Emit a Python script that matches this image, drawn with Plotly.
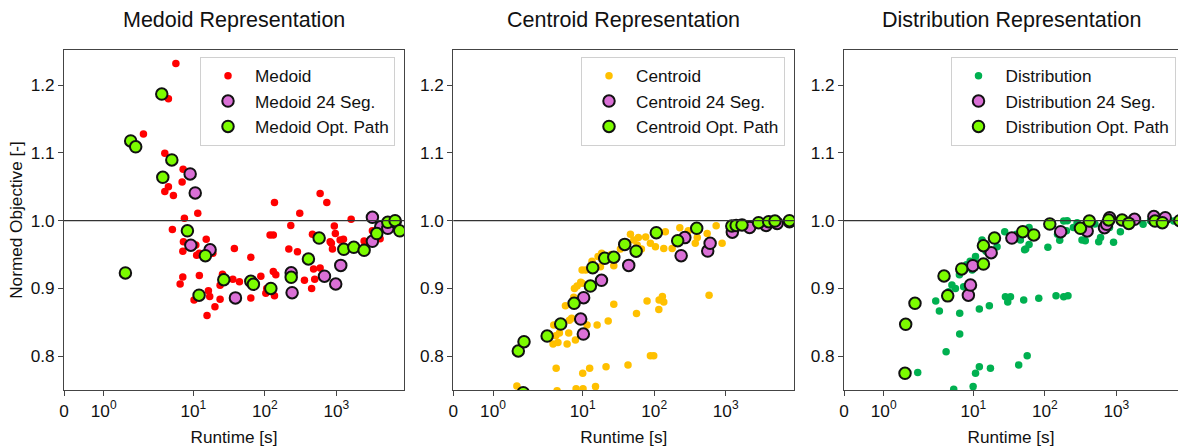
import numpy as np
import plotly.graph_objects as go

# ---------------- data (runtime [s], normed objective [-]) ----------------
medoid_rt = [5.68, 4.47, 2.0, 3.98, 7.18, 6.95, 4.47, 3.98, 5.25, 11.5, 7.48, 5.08, 7.25, 15.1, 10.8, 7.11,
             11.1, 12.1, 18.7, 37.4, 7.1, 6.52, 12.1, 25.5, 23.6, 35.6, 44, 16.2, 16.9, 10.2, 23.6, 20, 15.5,
             63.5, 63.5, 87.7, 103, 106, 136, 118, 131, 131, 142, 136, 230, 216, 285, 307, 357, 592, 734,
             462, 479, 592, 497, 450, 817, 880, 935, 966, 1127, 1254, 1607, 2440, 3186, 4083, 850, 3500, 2700]
medoid_obj = [1.232, 1.180, 1.128, 1.0995, 1.076, 1.057, 1.050, 1.043, 1.037, 1.011, 1.0035, 0.987, 0.969, 0.9725,
              0.964, 0.955, 0.949, 0.952, 0.952, 0.959, 0.917, 0.9065, 0.919, 0.921, 0.9045, 0.9135, 0.910,
              0.8966, 0.888, 0.883, 0.884, 0.873, 0.860, 0.946, 0.886, 0.918, 0.893, 0.900, 1.027, 0.979, 0.979,
              0.925, 0.920, 0.889, 0.993, 0.958, 0.954, 1.011, 0.912, 1.040, 1.027, 0.980, 0.9287, 0.930, 0.9134,
              0.900, 0.969, 0.958, 0.992, 0.981, 0.9715, 0.9725, 1.002, 0.970, 0.985, 0.9734, 0.9666, 0.975, 0.968]

medoid24_rt = [9.0, 10.6, 9.2, 17.1, 38.7, 233, 240, 680, 978, 1150, 3186, 3186, 4170, 5234, 6610]
medoid24_obj = [1.069, 1.041, 0.9637, 0.957, 0.886, 0.923, 0.8937, 0.918, 0.9065, 0.934, 1.005, 0.9696,
                0.991, 0.9887, 0.9985]

medoidopt_rt = [1.546, 1.679, 1.805, 3.61, 3.73, 4.99, 8.24, 14.7, 12.0, 26.6, 63.5, 69, 121, 233, 406, 573,
                1268, 1750, 2440, 3670, 5234, 6610, 7674]
medoidopt_obj = [0.9228, 1.1177, 1.109, 1.187, 1.064, 1.0897, 0.985, 0.9483, 0.890, 0.9128, 0.9105, 0.906,
                 0.900, 0.9164, 0.9434, 0.9744, 0.9577, 0.9607, 0.9563, 0.981, 0.9976, 1.0, 0.985]

centroid_rt = [1.6, 3.85, 3.93, 4.25, 4.38, 4.72, 5.73, 6.05, 6.37, 6.52, 7.49, 7.66, 7.9, 8.08, 8.35, 9.37,
               9.8, 10.0, 10.1, 11.0, 11.5, 12.5, 15.1, 15.9, 16.4, 18.4, 21.2, 22.7, 27.2, 27.2, 33.7, 43,
               46.5, 51.7, 56.5, 66.2, 76, 79.4, 88.4, 88.4, 98.4, 104, 116, 117, 130, 136, 143, 136, 178,
               228, 375, 550, 585, 735, 890, 17.7, 57.8, 13.5, 25, 60, 300, 1500, 3000, 5000, 400, 4.5, 4.2,
               9.8, 7.0]
centroid_obj = [0.756, 0.818, 0.846, 0.782, 0.749, 0.834, 0.8745, 0.818, 0.834, 0.853, 0.887, 0.900, 0.824,
                0.752, 0.9035, 0.909, 0.927, 0.7746, 0.752, 0.927, 0.846, 0.782, 0.755, 0.846, 0.947, 0.952,
                0.7843, 0.852, 0.8765, 0.9335, 0.958, 0.787, 0.980, 0.9715, 0.863, 0.958, 0.976, 0.8814,
                0.9666, 0.8006, 0.8006, 0.9616, 0.869, 0.883, 0.888, 0.880, 0.9838, 0.959, 0.959, 0.9897,
                0.9666, 0.981, 0.890, 0.9926, 0.9666, 0.932, 0.964, 0.940, 0.950, 0.975, 0.985, 0.995,
                0.996, 0.998, 0.975, 0.820, 0.830, 0.9075, 0.856]

centroid24_rt = [9.37, 10.2, 10.3, 18.3, 44, 238, 268, 560, 605, 1237, 2160, 3670, 5234, 7780]
centroid24_obj = [0.8548, 0.8326, 0.8863, 0.912, 0.934, 0.9483, 0.975, 0.9552, 0.9666, 0.983, 0.990, 0.993,
                  0.996, 0.9985]

centroidopt_rt = [1.636, 1.78, 1.76, 3.18, 4.92, 7.58, 12.8, 13.8, 20.3, 27.2, 38.7, 55.8, 107, 213, 393,
                  1216, 1400, 1690, 2880, 3990, 4880, 7780]
centroidopt_obj = [0.8076, 0.8213, 0.746, 0.8297, 0.8474, 0.878, 0.9035, 0.9306, 0.9445, 0.946, 0.965, 0.955,
                   0.9823, 0.9705, 0.9887, 0.992, 0.993, 0.9936, 0.997, 0.9985, 0.9995, 1.0]

distribution_rt = [1.856, 2.97, 3.34, 4.15, 4.15, 5.3, 5.6, 6.37, 6.43, 6.43, 7.3, 9.6, 9.9, 10.7, 12.1, 12.1,
                   10.7, 13.2, 16.7, 17.3, 21.4, 28, 30.2, 33, 27.4, 43, 45.4, 50.5, 53.8, 56.5, 82, 110, 143,
                   161, 183, 183, 210, 330, 367, 565, 912, 1136, 2360, 6330, 282, 7.3, 11.3, 15, 20, 40, 60,
                   150, 250, 500, 800, 1500, 3000, 5000, 4.5, 5.0, 8, 9, 60, 600, 200, 205, 52]
distribution_obj = [0.776, 0.8814, 0.8666, 0.8065, 0.8877, 0.751, 0.900, 0.920, 0.8632, 0.8326, 0.9025, 0.927,
                    0.755, 0.7746, 0.7843, 0.8696, 0.947, 0.9715, 0.8745, 0.782, 0.9616, 0.8877, 0.880,
                    0.8877, 0.9838, 0.787, 0.9715, 0.883, 0.958, 0.8006, 0.8854, 0.9607, 0.889, 0.971,
                    0.9995, 0.8877, 0.889, 0.9715, 0.9705, 0.969, 0.968, 0.9838, 0.9947, 0.9995, 0.997,
                    0.927, 0.937, 0.955, 0.975, 0.980, 0.990, 0.980, 0.990, 0.995, 0.990, 1.0, 1.0, 1.0,
                    0.895, 0.905, 0.935, 0.940, 0.965, 0.975, 0.985, 1.0, 0.957]

distribution24_rt = [8.5, 9.1, 9.8, 17.7, 34.5, 166, 390, 680, 730, 803, 1790, 3340, 4820]
distribution24_obj = [0.890, 0.905, 0.9335, 0.9527, 0.9744, 0.9838, 0.9848, 0.9897, 0.9947, 1.0044, 1.002,
                      1.006, 1.0044]

distributionopt_rt = [1.536, 1.553, 1.787, 3.88, 4.37, 6.86, 13.8, 13.8, 19.7, 49, 69.9, 117, 314, 418, 779,
                      1200, 1490, 3470, 4390, 7700]
distributionopt_obj = [0.7746, 0.847, 0.878, 0.9183, 0.889, 0.9287, 0.963, 0.936, 0.9744, 0.9838, 0.979,
                       0.995, 0.9887, 0.9995, 1.001, 1.001, 0.996, 0.9995, 0.997, 1.0]

panel_names = ["Medoid", "Centroid", "Distribution"]
panel_titles = ["Medoid Representation", "Centroid Representation", "Distribution Representation"]
base_colors = ["#ff0000", "#ffc000", "#00b050"]
x_tick_values = [0, 1, 10, 100, 1000]
x_tick_text = ["0", "10<sup>0</sup>", "10<sup>1</sup>", "10<sup>2</sup>", "10<sup>3</sup>"]
y_tick_values = [0.8, 0.9, 1.0, 1.1, 1.2]

# ---------------- symmetric-log scale (linthresh = 2, linscale = 1, base 10) ----------------
LINTHRESH = 2.0
LINSCALE = 1.0 / (1.0 - 1.0 / 10.0)


def symlog(v):
    v = np.asarray(v, dtype=float)
    a = np.abs(v)
    out = np.where(a <= LINTHRESH, a * LINSCALE / LINTHRESH,
                   LINSCALE + np.log10(np.maximum(a, LINTHRESH) / LINTHRESH))
    return np.sign(v) * out


W, H = 1178, 448
FONT = "Liberation Sans, Arial, Helvetica, sans-serif"
TXT = "#111111"
AX = "#444444"
FS = 17.2
PX_PER_DECADE = 71.5

panels = [
    (medoid_rt, medoid_obj, medoid24_rt, medoid24_obj, medoidopt_rt, medoidopt_obj),
    (centroid_rt, centroid_obj, centroid24_rt, centroid24_obj, centroidopt_rt, centroidopt_obj),
    (distribution_rt, distribution_obj, distribution24_rt, distribution24_obj, distributionopt_rt,
     distributionopt_obj),
]
x_left_px = [64, 453.3, 844]
x_right_px = [404, 794.3, 1178]
y_top_px, y_bot_px = 50, 390
legend_right_px = [395, 785, 1175.5]
legend_top_px = 57

fig = go.Figure()
layout = {}
for i, (name, col, data) in enumerate(zip(panel_names, base_colors, panels)):
    k = "" if i == 0 else str(i + 1)
    xa, ya = "x" + k, "y" + k
    lg = "legend" + k
    brt, bobj, srt, sobj, ort, oobj = data
    fig.add_trace(go.Scatter(x=symlog(brt), y=bobj, mode="markers", name=name, xaxis=xa, yaxis=ya,
                             legend=lg, marker=dict(color=col, size=7.5, line=dict(width=0))))
    fig.add_trace(go.Scatter(x=symlog(srt), y=sobj, mode="markers", name=name + " 24 Seg.", xaxis=xa,
                             yaxis=ya, legend=lg,
                             marker=dict(color="#da70d6", size=11.5, line=dict(color="#111111", width=2))))
    fig.add_trace(go.Scatter(x=symlog(ort), y=oobj, mode="markers", name=name + " Opt. Path", xaxis=xa,
                             yaxis=ya, legend=lg,
                             marker=dict(color="#7cfc00", size=11.5, line=dict(color="#111111", width=2))))

    width_px = x_right_px[i] - x_left_px[i]
    layout["xaxis" + k] = dict(
        domain=[x_left_px[i] / W, x_right_px[i] / W], anchor=ya,
        range=[0, width_px / PX_PER_DECADE],
        tickmode="array", tickvals=symlog(x_tick_values), ticktext=x_tick_text,
        showgrid=False, zeroline=False, showline=True, linecolor=AX, linewidth=1, mirror=True,
        ticks="outside", ticklen=5, tickcolor=AX, tickfont=dict(size=FS, color=TXT, family=FONT),
        title=dict(text="Runtime [s]", font=dict(size=FS, color=TXT, family=FONT), standoff=11),
        automargin=False,
    )
    layout["yaxis" + k] = dict(
        domain=[1 - y_bot_px / H, 1 - y_top_px / H], anchor=xa,
        range=[0.75, 1.252], tickmode="array", tickvals=y_tick_values,
        ticktext=[f"{v:.1f}" for v in y_tick_values],
        showgrid=False, zeroline=False, showline=True, linecolor=AX, linewidth=1,
        mirror=(i < 2), ticks="outside", ticklen=5, tickcolor=AX,
        tickfont=dict(size=FS, color=TXT, family=FONT), automargin=False,
    )
    if i == 0:
        layout["yaxis"]["title"] = dict(text="Normed Objective [-]",
                                        font=dict(size=FS, color=TXT, family=FONT), standoff=3)
    layout[lg] = dict(
        x=legend_right_px[i] / W, y=1 - legend_top_px / H, xanchor="right", yanchor="top",
        bgcolor="rgba(255,255,255,0.85)", bordercolor="#d0d0d0", borderwidth=1,
        font=dict(size=FS, color=TXT, family=FONT), tracegroupgap=0, itemwidth=44,
    )
    fig.add_shape(type="line", xref=xa + " domain", yref=ya, x0=0, x1=1, y0=1.0, y1=1.0,
                  line=dict(color="#333333", width=1.2), layer="above")
    fig.add_annotation(text=panel_titles[i], xref="paper", yref="paper",
                       x=(x_left_px[i] + min(x_right_px[i], x_left_px[i] + 340)) / 2 / W,
                       y=1 - 20 / H, xanchor="center", yanchor="middle", showarrow=False,
                       font=dict(size=21.5, color=TXT, family=FONT))

fig.update_layout(**layout)
fig.update_layout(width=W, height=H, margin=dict(l=0, r=0, t=0, b=0), paper_bgcolor="white",
                  plot_bgcolor="white", showlegend=True)
fig.write_html("out.html")
